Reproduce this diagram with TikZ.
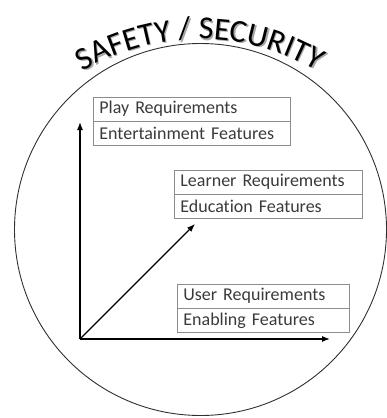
\documentclass[tikz,border=0pt]{standalone}
\usepackage{fontspec}
\setmainfont{Carlito}[RawFeature={-liga;-dlig;-clig}]
\usetikzlibrary{arrows.meta,decorations.text}
\definecolor{boxgray}{HTML}{8C8C8C}
\definecolor{txtgray}{HTML}{3A3A3A}
\definecolor{ringgray}{HTML}{303030}
\newcommand\mytitlefont{\fontsize{32}{34}\selectfont}
\begin{document}
\begin{tikzpicture}[x=1pt,y=1pt,
  row/.style={draw=boxgray, line width=0.8pt, text=txtgray, font=\fontsize{18}{19}\selectfont, anchor=north west, inner xsep=6pt, inner ysep=0pt, minimum height=23.5pt, align=left},
  axis/.style={line width=1.2pt, -{Latex[length=8pt,width=6pt]}},
  titletext/.style={decorate, decoration={text along path, text={|\mytitlefont|SAFETY / SECURITY}, text align=center, text color=#1}}]
\useasboundingbox (0,0) rectangle (386,-418);
\node[draw=ringgray, line width=0.9pt, circle, minimum size=372pt, inner sep=0pt] (ring) at (200.5,-229.5) {};
% title along arc (shadow, then text)
\path[titletext=black!35, shift={(1.3,-1.3)}] (200,-268) ++(150:229) arc[start angle=150, end angle=30, radius=229];
\path[titletext=black] (200,-268) ++(150:229) arc[start angle=150, end angle=30, radius=229];
% boxes
\node[row, text width=185pt] (playreq) at (93,-97) {Play Requirements};
\node[row, text width=185pt] (playfeat) at (playreq.south west) {Entertainment Features};
\node[row, text width=176pt] (learnreq) at (174,-170) {Learner Requirements};
\node[row, text width=176pt] (learnfeat) at (learnreq.south west) {Education Features};
\node[row, text width=160pt] (userreq) at (177,-284) {User Requirements};
\node[row, text width=160pt] (userfeat) at (userreq.south west) {Enabling Features};
% axes
\coordinate (O) at (80,-339);
\coordinate (xend) at (330,-339);
\coordinate (yend) at (80,-122);
\coordinate (dend) at (195,-224);
\draw[axis] (O) -- (xend);
\draw[axis] (O) -- (yend);
\draw[axis] (O) -- (dend);
\end{tikzpicture}
\end{document}
